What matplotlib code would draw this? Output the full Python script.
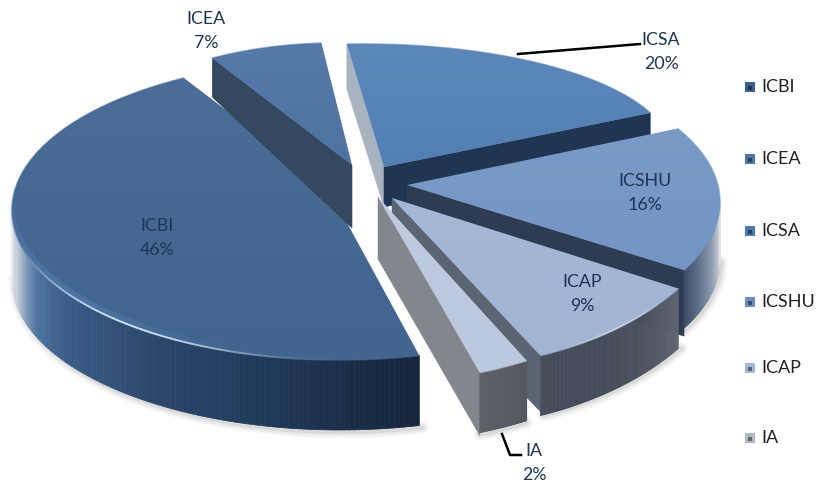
import numpy as np
import matplotlib
matplotlib.use("Agg")
import matplotlib.pyplot as plt
from matplotlib.collections import PolyCollection, LineCollection
from matplotlib.colors import LinearSegmentedColormap, to_rgb
from matplotlib.patches import Polygon

# data
categories = ["ICBI", "ICEA", "ICSA", "ICSHU", "ICAP", "IA"]
values = [46, 7, 20, 16, 9, 2]

# projection of each exploded slice (pixel layout)
START_ANGLE = 166.0
angle_shift = [0, 0, 0, -8.8, 0, 0]
centers = [(340, 210), (336, 169), (364, 152), (404, 202), (428, 171), (385, 66)]
radii = [(328, 150), (260, 126), (307, 108), (316, 147), (311, 198), (392, 316)]
apexes = [(328, 188), (352, 165), (384, 167), (407, 185), (392, 198), (378, 197)]
top_colors = [("#4b6d97", "#41658f"), ("#567aa9", "#4d73a3"), ("#5c87b9", "#5380b4"),
              ("#7a9ac8", "#7494c4"), ("#a6b8d8", "#a2b3d3"), ("#bfcbe0", "#bcc8dd")]

label_pos = [(157, 238), (206, 31), (661, 52), (645, 193), (582, 294), (534, 463)]
legend_y = [87, 159, 231, 302, 368, 438]
legend_colors = ["#3d5f8c", "#4d75a8", "#4c78ad", "#6a8cc0", "#a4b6d6", "#b0b8c6"]

plt.rcParams["font.family"] = ["Lato", "DejaVu Sans"]
fig = plt.figure(figsize=(8.17, 4.84), dpi=100)
ax = fig.add_axes([0, 0, 1, 1])
ax.set_xlim(0, 817)
ax.set_ylim(484, 0)
ax.axis("off")


def arc_points(i, t0, t1, n=160):
    t = np.radians(np.linspace(t0, t1, n))
    cx, cy = centers[i]
    rx, ry = radii[i]
    return cx + rx * np.sin(t), cy - ry * np.cos(t)


def draw_top(i, t0, t1, z):
    x, y = arc_points(i, t0, t1)
    pts = np.vstack([[apexes[i]], np.column_stack([x, y])])
    poly = Polygon(pts, closed=True, fc="none", ec="none", zorder=z)
    ax.add_patch(poly)
    cmap = LinearSegmentedColormap.from_list("t", top_colors[i])
    im = ax.imshow(np.linspace(0, 1, 64).reshape(-1, 1), cmap=cmap, aspect="auto",
                   extent=(pts[:, 0].min(), pts[:, 0].max(), pts[:, 1].max(), pts[:, 1].min()),
                   zorder=z, interpolation="bilinear")
    im.set_clip_path(poly)
    # soft bevel on the rim
    ax.plot(x, y, color=top_colors[i][1], lw=1.2, alpha=0.6, zorder=z + 0.01, solid_capstyle="butt")


def rim_glow(i, t0, t1, color, peak, lw, z, inset=0.0, n=80):
    x, y = arc_points(i, t0, t1, n + 1)
    y = y - inset
    segs = [[(x[k], y[k]), (x[k + 1], y[k + 1])] for k in range(n)]
    rgb = to_rgb(color)
    cols = [(*rgb, peak * np.sin(np.pi * (k + 0.5) / n) ** 2) for k in range(n)]
    ax.add_collection(LineCollection(segs, colors=cols, linewidths=lw, zorder=z, capstyle="butt"))


def draw_cut(p_outer, p_apex, depth_outer, depth_apex, color, z):
    pts = [p_outer, p_apex, (p_apex[0], p_apex[1] + depth_apex), (p_outer[0], p_outer[1] + depth_outer)]
    ax.add_patch(Polygon(pts, closed=True, fc=color, ec=color, lw=0.4, zorder=z))


def draw_side(i, t0, t1, depth, stops, z, n=120):
    x, y = arc_points(i, t0, t1, n + 1)
    cmap = LinearSegmentedColormap.from_list("s", stops)
    quads = [[(x[k], y[k]), (x[k + 1], y[k + 1]), (x[k + 1], y[k + 1] + depth), (x[k], y[k] + depth)]
             for k in range(n)]
    cols = [cmap(k / (n - 1)) for k in range(n)]
    ax.add_collection(PolyCollection(quads, facecolors=cols, edgecolors=cols, linewidths=0.5, zorder=z))


def draw_shadow(x, y, z):
    for lw, a in zip((9, 6, 3), (0.05, 0.07, 0.10)):
        ax.plot(x, y, color="#555555", lw=lw, alpha=a, zorder=z, solid_capstyle="round")


# slice angles come from the values
spans = np.array(values) / sum(values) * 360
ends = START_ANGLE + np.cumsum(spans)
begins = ends - spans
t0s = begins + np.array(angle_shift)
t1s = ends + np.array(angle_shift)


def rim(i, t):
    x, y = arc_points(i, t, t, 1)
    return float(x[0]), float(y[0])


# ICSA (back)
i = 2
draw_cut(rim(i, t0s[i]), apexes[i], 45, 40, "#a9b3bf", 2)
draw_cut(rim(i, t1s[i]), apexes[i], 40, 40, "#1f3552", 2.2)
draw_top(i, t0s[i], t1s[i], 3)

# ICBI
i = 0
xs, ys = arc_points(i, t0s[i], 272, 200)
draw_shadow(xs + 3, ys + 72, 0.5)
draw_side(i, t0s[i], 272, 70,
          ["#15263c", "#1a2d47", "#1f3756", "#243f62", "#2a4669", "#32527a", "#3b5c88", "#4f75a0",
           "#c4cdd8", "#eceff2"], 4)
draw_top(i, t0s[i], t1s[i], 5)
rim_glow(i, 190, 285, "#5f90c8", 0.35, 5, 5.1, inset=3)
rim_glow(i, 178, 262, "#dbe9f7", 0.95, 1.4, 5.2)

# ICEA
i = 1
draw_cut(rim(i, t0s[i]), apexes[i], 39, 63, "#344860", 6)
draw_top(i, t0s[i], t1s[i], 7)

# ICSHU
i = 3
xs, ys = arc_points(i, 450, t1s[i], 60)
draw_shadow(xs + 1, ys + 60, 0.5)
draw_cut(rim(i, t1s[i]), apexes[i], 66, 68, "#2d3c52", 8)
draw_side(i, t1s[i], 450, 58, ["#3f4e68", "#64748e", "#8a97ab", "#b8c0cc", "#dfe3e9"], 8.5)
draw_top(i, t0s[i], t1s[i], 9)

# ICAP
i = 4
xs, ys = arc_points(i, t0s[i], t1s[i], 60)
draw_shadow(xs + 3, ys + 60, 0.5)
draw_cut(rim(i, t1s[i]), apexes[i], 56, 60, "#5a6472", 10)
draw_side(i, t0s[i], t1s[i], 60, ["#5f6671", "#4a505d", "#434a58", "#454b58"], 10.5)
draw_top(i, t0s[i], t1s[i], 11)
rim_glow(i, t0s[i], t1s[i], "#dfe6f2", 0.7, 1.3, 11.1)

# IA
i = 5
xs, ys = arc_points(i, t0s[i], t1s[i], 30)
draw_shadow(xs, ys + 62, 0.5)
draw_cut(rim(i, t1s[i]), apexes[i], 63, 62, "#83878d", 12)
draw_side(i, t0s[i], t1s[i], 60, ["#55595f", "#5d6168"], 12.5)
draw_top(i, t0s[i], t1s[i], 13)

# leader lines
ax.plot([518, 640], [54, 44], color="black", lw=1.8, zorder=20)
ax.plot([502, 510, 521], [434, 455, 455], color="black", lw=1.8, zorder=20)

# slice labels
for name, val, (lx, ly) in zip(categories, values, label_pos):
    ax.text(lx, ly, f"{name}\n{val}%", ha="center", va="center", fontsize=12.8,
            color="#1f3354", linespacing=1.67, zorder=25)

# legend
for name, ly, col in zip(categories, legend_y, legend_colors):
    dark = tuple(c * 0.55 for c in to_rgb(col))
    ax.scatter([750], [ly], marker="s", s=62, color=col, zorder=25, linewidths=0)
    ax.scatter([750.5], [ly + 0.5], marker="s", s=10, color=dark, zorder=26, linewidths=0)
    ax.text(761, ly, name, ha="left", va="center", fontsize=13, color="#222222", zorder=25)

ax.set_xlim(0, 817)
ax.set_ylim(484, 0)
fig.savefig("out.png", dpi=100, facecolor="white")
